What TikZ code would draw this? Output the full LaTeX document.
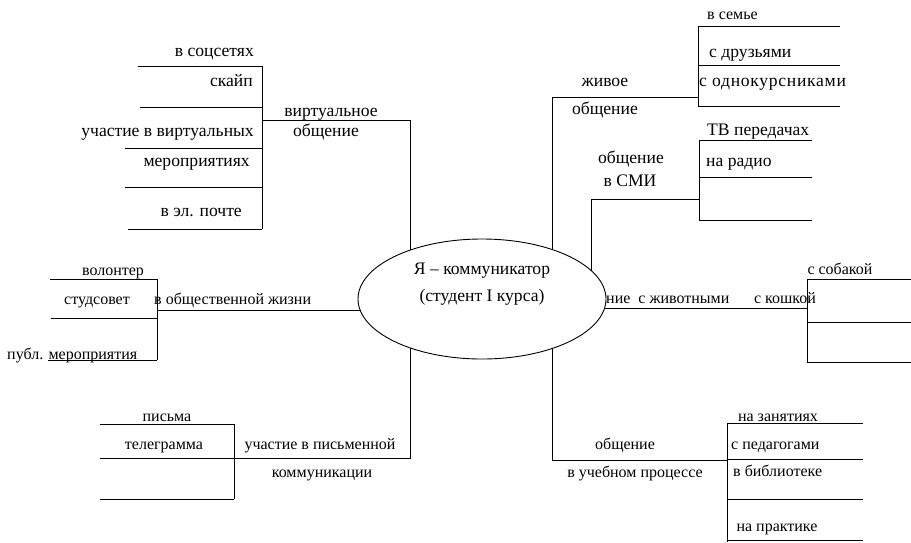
\documentclass[tikz,border=0pt]{standalone}
\usepackage{fontspec}
\setmainfont{Liberation Serif}
\usetikzlibrary{shapes.geometric, backgrounds}
\begin{document}
\begin{tikzpicture}[x = 1pt, y = -1pt, line width = 0.9pt,
	every node/.style = { font = \fontsize{16}{18}\selectfont, inner sep = 0pt, text height = 8pt, text depth = 0pt },
	big/.style = { font = \fontsize{17.6}{20}\selectfont },
	hub/.style = { draw, ellipse, fill = white, minimum width = 248pt, minimum height = 120pt }]
	\useasboundingbox (0,0) rectangle (911,542);
	\node [hub] (me) at (482,299) {};
	\node [big] (me1) at (482,270) { Я – коммуникатор };
	\node [big] (me2) at (482,297) { (студент I курса) };

	\coordinate (vbox) at (262,120);
	\coordinate (vj) at (410,120);
	\coordinate (lj) at (552,97);
	\coordinate (lbox) at (698,97);
	\coordinate (mj) at (591,199);
	\coordinate (mbox) at (699,199);
	\coordinate (abox) at (807,308);
	\coordinate (sbox) at (157,310);
	\coordinate (wj) at (410,458);
	\coordinate (wbox) at (234,458);
	\coordinate (ej) at (552,460);
	\coordinate (ebox) at (727,460);

	\begin{pgfonlayer}{background}
		\draw (vbox) -- (vj) -- (vj |- me.center);
		\draw (lbox) -- (lj) -- (lj |- me.center);
		\draw (mbox) -- (mj) -- (mj |- me.center);
		\draw (abox) -- (abox -| me.center);
		\draw (sbox) -- (sbox -| me.center);
		\draw (wbox) -- (wj) -- (wj |- me.center);
		\draw (ebox) -- (ej) -- (ej |- me.center);
	\end{pgfonlayer}

	\draw (262,66) -- (262,229);
	\draw (138,66) -- (262,66);
	\draw (140,107) -- (262,107);
	\draw (125,148) -- (262,148);
	\draw (125,187) -- (262,187);
	\draw (128,229) -- (262,229);
	\node [big, anchor = east] (soc) at (254,52) { в соцсетях };
	\node [big, anchor = east] (skype) at (253,82) { скайп };
	\node [big, anchor = east] (virtev) at (254,132) { участие в виртуальных };
	\node [big, anchor = east] (virtev2) at (250,162) { мероприятиях };
	\node [big, anchor = east] (mail) at (242,212) { в эл. почте };
	\node [big] (virt1) at (331,112) { виртуальное };
	\node [big] (virt2) at (326,132) { общение };

	\draw (698,26) -- (698,106);
	\draw (698,26) -- (840,26);
	\draw (698,65) -- (840,65);
	\draw (698,106) -- (840,106);
	\node [anchor = west] (fam) at (707,15) { в семье };
	\node [big, anchor = west] (friends) at (709,53) { с друзьями };
	\node [big, anchor = west] (class) at (699,82) { \addfontfeature{LetterSpace = 4}с однокурсниками };
	\node [big] (live1) at (605,82) { живое };
	\node [big] (live2) at (605,110) { общение };

	\draw (699,140) -- (699,220);
	\draw (699,140) -- (812,140);
	\draw (699,177) -- (812,177);
	\draw (699,220) -- (812,220);
	\node [big, anchor = west] (tv) at (707,131) { ТВ передачах };
	\node [big, anchor = west] (radio) at (706,162) { на радио };
	\node [big] (media1) at (631,159) { общение };
	\node [big] (media2) at (630,182) { в СМИ };

	\draw (807,279) -- (807,362);
	\draw (807,279) -- (911,279);
	\draw (807,322) -- (911,322);
	\draw (807,362) -- (911,362);
	\node [anchor = west] (pets) at (606,299) { ние\ \ с животными };
	\node (cat) at (785,299) { с кошкой };
	\node (dog) at (840,270) { с собакой };

	\draw (157,279) -- (157,360);
	\draw (50,279) -- (157,279);
	\draw (51,318) -- (157,318);
	\draw (48,360) -- (157,360);
	\node (vol) at (113,271) { волонтер };
	\node (stud) at (97,300) { студсовет };
	\node [anchor = west] (soclife) at (154,300) { в общественной жизни };
	\node [anchor = west] (publ) at (7,355) { публ. мероприятия };

	\draw (234,424) -- (234,499);
	\draw (100,424) -- (234,424);
	\draw (100,458) -- (234,458);
	\draw (100,499) -- (234,499);
	\node (letters) at (167,417) { письма };
	\node (telegram) at (164,445) { телеграмма };
	\node (write1) at (320,445) { участие в письменной };
	\node (write2) at (322,473) { коммуникации };

	\draw (727,423) -- (727,542);
	\draw (727,423) -- (863,423);
	\draw (727,459) -- (863,459);
	\draw (727,499) -- (863,499);
	\draw (727,540) -- (863,540);
	\node (lessons) at (778,417) { на занятиях };
	\node [anchor = west] (teachers) at (731,445) { с педагогами };
	\node [anchor = west] (library) at (733,472) { в библиотеке };
	\node (practice) at (777,527) { на практике };
	\node (edu1) at (625,445) { общение };
	\node (edu2) at (635,473) { в учебном процессе };
\end{tikzpicture}
\end{document}
